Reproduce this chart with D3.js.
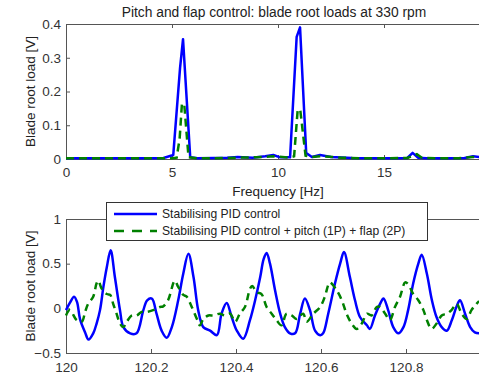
<!DOCTYPE html>
<html>
<head>
<meta charset="utf-8">
<script src="https://cdn.jsdelivr.net/npm/d3@7"></script>
<style>
  body { margin: 0; background: #fff; }
  svg { display: block; font-family: "Liberation Sans", Arial, sans-serif; }
  .tick line { stroke: #555; }
  .tick text { fill: #333; font-size: 13.5px; }
</style>
</head>
<body>
<div id="chart"></div>
<script>
// spectrum (top panel)
const blueFreq = [0, 1, 2, 3, 4, 4.6, 5.06, 5.38, 5.52, 5.86, 6.2, 7, 7.6, 8.1, 8.8, 9.4, 9.78, 10.1, 10.57, 10.88, 11.04, 11.33, 11.6, 11.98, 12.5, 13.5, 14.5, 15.5, 16.1, 16.35, 16.6, 17, 18, 18.8, 19.2, 19.6, 20];
const blueSpec = [0.002, 0.002, 0.002, 0.002, 0.002, 0.003, 0.012, 0.27, 0.355, 0.005, 0.002, 0.003, 0.004, 0.006, 0.004, 0.008, 0.012, 0.005, 0.005, 0.362, 0.39, 0.018, 0.006, 0.012, 0.006, 0.003, 0.002, 0.002, 0.003, 0.018, 0.004, 0.002, 0.002, 0.003, 0.008, 0.005, 0.003];
const greenFreq = [0, 1, 2, 3, 4, 5, 5.22, 5.36, 5.47, 5.58, 5.78, 6.2, 7, 8, 9, 9.8, 10.5, 10.76, 10.93, 11.05, 11.3, 11.6, 12, 13, 14, 15, 16.1, 16.55, 16.8, 17.5, 18.5, 19.2, 19.6, 20];
const greenSpec = [0.002, 0.002, 0.002, 0.002, 0.002, 0.002, 0.004, 0.06, 0.165, 0.16, 0.005, 0.002, 0.002, 0.004, 0.005, 0.008, 0.004, 0.008, 0.147, 0.145, 0.01, 0.006, 0.008, 0.004, 0.002, 0.002, 0.003, 0.014, 0.003, 0.002, 0.002, 0.006, 0.004, 0.003];

// time series (bottom panel)
const blueTime = [120.000, 120.009, 120.019, 120.026, 120.033, 120.045, 120.053, 120.064, 120.072, 120.080, 120.088, 120.096, 120.105, 120.115, 120.127, 120.135, 120.151, 120.166, 120.182, 120.191, 120.202, 120.213, 120.225, 120.237, 120.249, 120.264, 120.276, 120.288, 120.300, 120.311, 120.323, 120.339, 120.355, 120.366, 120.378, 120.390, 120.402, 120.417, 120.433, 120.445, 120.457, 120.465, 120.472, 120.480, 120.492, 120.504, 120.515, 120.527, 120.539, 120.551, 120.562, 120.574, 120.586, 120.598, 120.605, 120.617, 120.633, 120.645, 120.654, 120.668, 120.680, 120.692, 120.708, 120.715, 120.727, 120.739, 120.747, 120.758, 120.770, 120.782, 120.794, 120.805, 120.817, 120.829, 120.837, 120.849, 120.861, 120.872, 120.884, 120.896, 120.908, 120.919, 120.927, 120.939, 120.951, 120.962, 120.972];
const blueLoad = [-0.02, 0.06, 0.13, 0.07, -0.12, -0.27, -0.35, -0.28, -0.17, -0.02, 0.24, 0.46, 0.65, 0.35, -0.02, -0.21, -0.28, -0.28, -0.02, 0.09, 0.11, -0.06, -0.25, -0.33, -0.21, 0.09, 0.39, 0.61, 0.35, -0.02, -0.21, -0.25, -0.30, -0.06, 0.06, -0.10, -0.25, -0.34, -0.13, 0.09, 0.35, 0.55, 0.62, 0.50, 0.20, -0.06, -0.21, -0.28, -0.28, -0.06, 0.11, -0.02, -0.25, -0.30, -0.28, -0.06, 0.28, 0.50, 0.63, 0.35, 0.09, -0.10, -0.19, -0.23, -0.08, 0.05, 0.11, -0.02, -0.21, -0.28, -0.21, -0.02, 0.28, 0.50, 0.60, 0.39, 0.09, -0.10, -0.21, -0.25, -0.13, 0.02, 0.09, -0.06, -0.21, -0.27, -0.28];
const greenTime = [120.000, 120.009, 120.025, 120.037, 120.045, 120.052, 120.064, 120.072, 120.076, 120.084, 120.096, 120.104, 120.111, 120.119, 120.127, 120.135, 120.143, 120.155, 120.166, 120.178, 120.190, 120.205, 120.221, 120.228, 120.240, 120.256, 120.264, 120.276, 120.284, 120.296, 120.308, 120.315, 120.323, 120.335, 120.347, 120.362, 120.374, 120.386, 120.398, 120.409, 120.421, 120.433, 120.438, 120.449, 120.460, 120.472, 120.484, 120.495, 120.507, 120.519, 120.531, 120.543, 120.558, 120.566, 120.582, 120.598, 120.609, 120.617, 120.621, 120.637, 120.649, 120.660, 120.672, 120.684, 120.696, 120.708, 120.719, 120.731, 120.739, 120.751, 120.762, 120.774, 120.786, 120.798, 120.805, 120.817, 120.829, 120.841, 120.849, 120.860, 120.872, 120.884, 120.896, 120.907, 120.919, 120.931, 120.943, 120.954, 120.966, 120.972];
const greenLoad = [-0.08, -0.02, -0.13, -0.15, -0.04, 0.05, 0.13, 0.28, 0.31, 0.22, 0.16, 0.15, 0.05, -0.06, -0.17, -0.21, -0.15, -0.08, -0.08, -0.04, -0.04, -0.02, 0.015, 0.02, 0.09, 0.31, 0.24, 0.15, 0.13, 0.015, -0.12, -0.19, -0.12, -0.08, -0.08, -0.06, -0.08, -0.06, -0.15, -0.06, 0.015, 0.22, 0.25, 0.18, 0.16, 0.015, -0.06, -0.13, -0.19, -0.06, -0.08, -0.12, -0.06, -0.15, -0.06, 0.015, 0.13, 0.26, 0.29, 0.20, 0.09, -0.06, -0.17, -0.23, -0.17, -0.06, -0.08, 0.015, 0.015, -0.06, -0.13, 0.015, 0.13, 0.29, 0.27, 0.16, 0.09, -0.02, -0.13, -0.23, -0.17, -0.08, -0.06, -0.02, 0.05, -0.06, -0.12, -0.02, 0.05, 0.08];

const freqTicks = [0, 5, 10, 15];
const specTicks = [0, 0.1, 0.2, 0.3, 0.4];
const timeTicks = [120, 120.2, 120.4, 120.6, 120.8];
const loadTicks = [-0.5, 0, 0.5, 1];
const legendLabels = ["Stabilising PID control", "Stabilising PID control + pitch (1P) + flap (2P)"];

const blue = "#0000ff";
const green = "#008000";

const svg = d3.select("#chart").append("svg")
  .attr("width", 479)
  .attr("height", 375);

function drawAxes(x, y, xt, yt, xfmt, yfmt, pad) {
  const [x0, x1] = x.range();
  const [y0, y1] = y.range();
  svg.append("g")
    .attr("transform", `translate(0,${y0})`)
    .call(d3.axisBottom(x).tickValues(xt).tickFormat(xfmt).tickSizeInner(-4).tickSizeOuter(0).tickPadding(pad))
    .call(g => g.select(".domain").remove());
  svg.append("g")
    .attr("transform", `translate(0,${y1})`)
    .call(d3.axisTop(x).tickValues(xt).tickFormat("").tickSizeInner(-4).tickSizeOuter(0))
    .call(g => g.select(".domain").remove());
  svg.append("g")
    .attr("transform", `translate(${x0},0)`)
    .call(d3.axisLeft(y).tickValues(yt).tickFormat(yfmt).tickSizeInner(-4).tickSizeOuter(0).tickPadding(5))
    .call(g => g.select(".domain").remove());
  svg.append("rect")
    .attr("x", x0 + 0.5).attr("y", y1 + 0.5)
    .attr("width", x1 - x0).attr("height", y0 - y1)
    .attr("fill", "none").attr("stroke", "#555").attr("stroke-width", 1);
}

// top panel
const xTop = d3.scaleLinear().domain([0, 20]).range([66, 490]);
const yTop = d3.scaleLinear().domain([0, 0.4]).range([159, 24]);
drawAxes(xTop, yTop, freqTicks, specTicks, d3.format("d"), d => d === 0 ? "0" : d3.format(".1f")(d), 8);

const lineTop = d3.line().x(d => xTop(d[0])).y(d => yTop(d[1]));
svg.append("path")
  .datum(d3.zip(blueFreq, blueSpec))
  .attr("fill", "none").attr("stroke", blue).attr("stroke-width", 2.5)
  .attr("stroke-linejoin", "round")
  .attr("d", lineTop);
svg.append("path")
  .datum(d3.zip(greenFreq, greenSpec))
  .attr("fill", "none").attr("stroke", green).attr("stroke-width", 2.5)
  .attr("stroke-dasharray", "8,5")
  .attr("d", lineTop);

// bottom panel
const xBot = d3.scaleLinear().domain([120, 121]).range([66, 491]);
const yBot = d3.scaleLinear().domain([-0.5, 1]).range([353, 219]);
drawAxes(xBot, yBot, timeTicks, loadTicks, d => d3.format("")(+d.toFixed(1)), d => d3.format("")(d), 9);

const lineBot = d3.line().curve(d3.curveCatmullRom.alpha(0.5))
  .x(d => xBot(d[0])).y(d => yBot(d[1]));
svg.append("path")
  .datum(d3.zip(blueTime, blueLoad))
  .attr("fill", "none").attr("stroke", blue).attr("stroke-width", 2.5)
  .attr("stroke-linejoin", "round")
  .attr("d", lineBot);
svg.append("path")
  .datum(d3.zip(greenTime, greenLoad))
  .attr("fill", "none").attr("stroke", green).attr("stroke-width", 2.5)
  .attr("stroke-dasharray", "7,5")
  .attr("d", lineBot);

// titles and labels
svg.append("text")
  .attr("x", 274).attr("y", 17)
  .attr("text-anchor", "middle")
  .attr("font-size", 13.8).attr("fill", "#222")
  .text("Pitch and flap control: blade root loads at 330 rpm");

svg.append("text")
  .attr("x", 278).attr("y", 196)
  .attr("text-anchor", "middle")
  .attr("font-size", 13.5).attr("fill", "#222")
  .text("Frequency [Hz]");

[91.5, 286].forEach(cy => {
  svg.append("text")
    .attr("transform", `translate(35,${cy}) rotate(-90)`)
    .attr("text-anchor", "middle")
    .attr("font-size", 13.5).attr("fill", "#222")
    .text("Blade root load [V]");
});

// legend
const legend = svg.append("g");
legend.append("rect")
  .attr("x", 106.5).attr("y", 202.5)
  .attr("width", 321).attr("height", 38)
  .attr("fill", "#fff").attr("stroke", "#333").attr("stroke-width", 1);
const legendRows = [
  { label: legendLabels[0], color: blue, dash: null, y: 214 },
  { label: legendLabels[1], color: green, dash: "10,8", y: 231 }
];
legendRows.forEach(r => {
  legend.append("line")
    .attr("x1", 114).attr("x2", 157)
    .attr("y1", r.y).attr("y2", r.y)
    .attr("stroke", r.color).attr("stroke-width", 2.5)
    .attr("stroke-dasharray", r.dash);
  legend.append("text")
    .attr("x", 162).attr("y", r.y)
    .attr("dy", "0.35em")
    .attr("font-size", 12.1).attr("fill", "#222")
    .text(r.label);
});
</script>
</body>
</html>
